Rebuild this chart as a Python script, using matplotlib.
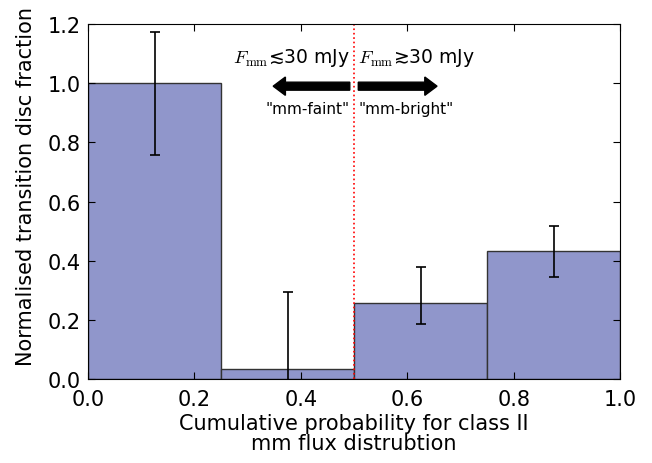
import numpy as np
import matplotlib
matplotlib.use("Agg")
import matplotlib.pyplot as plt

plt.rcParams['mathtext.fontset'] = 'cm'

bin_left = [0.0, 0.25, 0.5, 0.75]
fraction = [1.0, 0.035, 0.257, 0.434]
err_low = [0.242, 0.05, 0.071, 0.088]
err_high = [0.172, 0.258, 0.121, 0.082]
bin_width = 0.25

fig = plt.figure(figsize=(6.52, 4.64), dpi=100)
ax = fig.add_axes([0.135, 0.181, 0.816, 0.765])

centres = np.array(bin_left) + bin_width / 2
ax.bar(bin_left, fraction, width=bin_width, align='edge', color='#9096cb',
       edgecolor='#333333', linewidth=1.0)
ax.errorbar(centres, fraction, yerr=[err_low, err_high], fmt='none',
            ecolor='black', elinewidth=1.2, capsize=3.5, capthick=1.2)
ax.axvline(0.5, color='red', linestyle=':', linewidth=1.2)

# arrows and labels
ax.arrow(0.492, 0.99, -0.144, 0, width=0.027, head_width=0.062, head_length=0.023,
         length_includes_head=True, color='black')
ax.arrow(0.508, 0.99, 0.148, 0, width=0.027, head_width=0.062, head_length=0.023,
         length_includes_head=True, color='black')
ax.text(0.492, 1.089, r'$F_{\rm mm}$≲30 mJy', ha='right', va='center', fontsize=13.5)
ax.text(0.508, 1.089, r'$F_{\rm mm}$≳30 mJy', ha='left', va='center', fontsize=13.5)
ax.text(0.492, 0.916, '"mm-faint"', ha='right', va='center', fontsize=11)
ax.text(0.508, 0.916, '"mm-bright"', ha='left', va='center', fontsize=11)

ax.set_xlim(0, 1)
ax.set_ylim(0, 1.2)
ax.set_xticks([0.0, 0.2, 0.4, 0.6, 0.8, 1.0])
ax.set_yticks([0.0, 0.2, 0.4, 0.6, 0.8, 1.0, 1.2])
ax.tick_params(direction='in', top=True, right=True, labelsize=15, length=5)
ax.tick_params(axis='x', pad=7)
ax.tick_params(axis='y', pad=5)
ax.set_xlabel('Cumulative probability for class II\nmm flux distrubtion', fontsize=15,
              linespacing=1.0, labelpad=3)
ax.set_ylabel('Normalised transition disc fraction', fontsize=15)
ax.yaxis.set_label_coords(-0.097, 0.546)

fig.savefig('out.png', dpi=100)
